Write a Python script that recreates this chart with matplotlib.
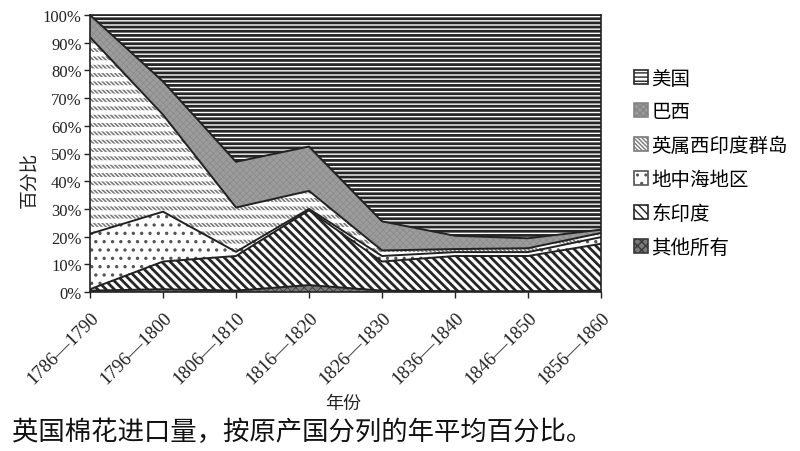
import numpy as np
import matplotlib.pyplot as plt
import matplotlib.patches as mpatches

plt.rcParams['font.family'] = ['Liberation Serif', 'Noto Sans CJK SC']

periods = ['1786—1790', '1796—1800', '1806—1810', '1816—1820',
           '1826—1830', '1836—1840', '1846—1850', '1856—1860']

# annual average share (%) of British cotton imports, bottom layer first
other       = [0.5, 1.0, 0.5, 2.5, 0.5, 0.3, 0.3, 0.5]
east_india  = [0.5, 10.0, 12.5, 27.0, 10.5, 12.7, 12.7, 16.9]
mediterr    = [20.0, 18.0, 1.5, 0.5, 2.0, 1.4, 1.4, 2.4]
west_indies = [71.0, 35.0, 16.0, 6.5, 2.0, 1.1, 1.4, 1.5]
brazil      = [8.0, 12.0, 16.5, 16.0, 10.5, 4.8, 3.6, 1.2]
usa         = [0.0, 24.0, 53.0, 47.5, 74.5, 79.7, 80.6, 77.5]

names = ['其他所有', '东印度', '地中海地区', '英属西印度群岛', '巴西', '美国']

# facecolor, hatch colour, hatch, hatch linewidth
styles = [
    ('#7a7a7a', '#3a3a3a', 'xxxx', 0.6),
    ('white', '#262626', '\\\\\\\\', 2.0),
    ('white', '#555555', '..', 1.2),
    ('white', '#7a7a7a', '\\\\\\\\\\\\\\\\', 1.2),
    ('#9c9c9c', '#858585', 'xxxxx', 0.4),
    ('white', '#262626', '----', 2.0),
]

layers = np.array([other, east_india, mediterr, west_indies, brazil, usa])
tops = np.cumsum(layers, axis=0)
bottoms = tops - layers
x = np.arange(len(periods))

fig = plt.figure(figsize=(8, 4.52), dpi=100)
ax = fig.add_axes([90 / 800, 1 - 293 / 452, 511 / 800, 277 / 452])

handles = []
for i, (fc, hc, h, hlw) in enumerate(styles):
    poly = ax.fill_between(x, bottoms[i], tops[i], facecolor=fc, edgecolor=hc,
                           hatch=h, linewidth=0)
    if hasattr(poly, 'set_hatch_linewidth'):
        poly.set_hatch_linewidth(hlw)
    if i == 3:
        # white horizontal bands break the diagonals into rows of short dashes
        gaps = ax.fill_between(x, bottoms[i], tops[i], facecolor='none',
                               edgecolor='white', hatch='--', linewidth=0)
        if hasattr(gaps, 'set_hatch_linewidth'):
            gaps.set_hatch_linewidth(3.2)
    p = mpatches.Patch(facecolor=fc, edgecolor=hc, hatch=h, linewidth=1.2, label=names[i])
    handles.append(p)
    if i < len(styles) - 1:
        ax.plot(x, tops[i], color='#222222', lw=1.4)

ax.set_xlim(0, len(periods) - 1)
ax.set_ylim(0, 100)
ax.set_yticks(range(0, 101, 10))
ax.set_yticklabels(['%d%%' % v for v in range(0, 101, 10)], fontsize=12)
ax.set_xticks(x)
ax.set_xticklabels(periods, fontsize=13.5, rotation=45, ha='right', va='top',
                   rotation_mode='anchor')
ax.tick_params(direction='out', length=4, width=1, colors='#222222')
ax.tick_params(axis='y', pad=2)
ax.tick_params(axis='x', pad=8)
for s in ax.spines.values():
    s.set_color('#222222')
    s.set_linewidth(1.2)

fig.text(31 / 800, 1 - 180 / 452, '百分比', rotation=90, ha='center', va='center',
         fontsize=13.5, color='#222222')
fig.text(343 / 800, 1 - 404 / 452, '年份', ha='center', va='center',
         fontsize=13, color='#222222')
fig.text(12 / 800, 1 - 432 / 452, '英国棉花进口量，按原产国分列的年平均百分比。',
         ha='left', va='center', fontsize=19, color='#111111')

fig.legend(handles[::-1], names[::-1], loc='upper left',
           bbox_to_anchor=(626 / 800, 1 - 63 / 452), frameon=False,
           fontsize=14, handlelength=0.75, handleheight=0.75,
           handletextpad=0.15, labelspacing=0.79, borderaxespad=0)

fig.savefig('out.png', dpi=100)
